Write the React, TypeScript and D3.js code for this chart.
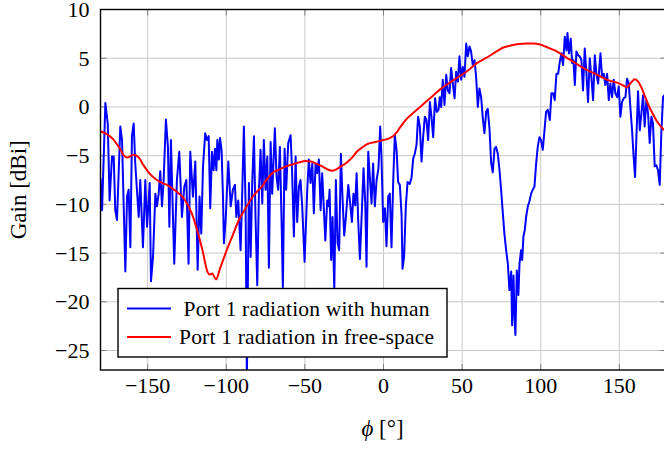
import React from 'react';
import * as d3 from 'd3';

const xTicks = [-150, -100, -50, 0, 50, 100, 150];
const yTicks = [-25, -20, -15, -10, -5, 0, 5, 10];
const legendLabels = ['Port 1 radiation with human', 'Port 1 radiation in free-space'];
const seriesColors = ['#0000ff', '#ff0000'];

// [phi (deg), gain (dBi)]
const humanPattern: [number, number][] = [
  [-180, -7.3], [-179, -10.6], [-176.9, 0.4], [-175.4, -1.7], [-174.2, -9.6], [-172.7, -5.1], [-171.6, -5.1],
  [-170.6, -10.6], [-169.5, -11.6], [-167.4, -2.0], [-166.3, -3.4], [-164.2, -16.9], [-163.1, -9.2], [-162.1, -8.5],
  [-161, -14.4], [-160, -3.0], [-158.9, -1.7], [-157.9, -5.8], [-155.7, -11.3], [-154.7, -7.5], [-153, -14.4],
  [-151.5, -7.5], [-150.4, -12.3], [-148.7, -7.8], [-147.9, -17.9], [-146.6, -15.4], [-145.1, -8.9], [-144.1, -10.2],
  [-143, -8.9], [-142, -6.6], [-140.9, -10.2], [-139.9, -7.7], [-138.4, -1.3], [-137.1, -4.1], [-136.2, -12.3],
  [-135.2, -3.4], [-133.9, -11.3], [-133.1, -16.1], [-131.4, -7.5], [-129.9, -4.6], [-128.2, -11.3], [-126.7, -8.2],
  [-125.4, -7.5], [-124, -16.1], [-122.9, -4.6], [-121.2, -9.2], [-119.7, -5.6], [-118.2, -16.7], [-117, -9.2],
  [-115.9, -13.0], [-114.8, -6.1], [-113.4, -2.7], [-112.3, -3.4], [-111.2, -3.0], [-110.2, -10.4], [-109.1, -4.6],
  [-108.1, -6.5], [-107.2, -4.3], [-106.3, -6.5], [-105.7, -3.4], [-104.7, -5.4], [-104, -3.2], [-103, -4.4],
  [-102.1, -9.2], [-101.5, -14.0], [-100.4, -11.6], [-98.7, -5.6], [-97.2, -10.2], [-95.8, -8.5], [-94.5, -8.0],
  [-93.6, -11.3], [-92.4, -9.6], [-90.9, -14.7], [-89.8, -8.5], [-88.8, -2.0], [-87.7, -10.2], [-86.9, -28],
  [-85.6, -7.8], [-84.5, -15.4], [-83.5, -7.8], [-82.4, -3.0], [-81.4, -11.3], [-80.3, -18.3], [-79.2, -8.5],
  [-78.2, -4.4], [-77.1, -9.9], [-76.1, -3.4], [-75, -8.5], [-73.9, -5.1], [-72.9, -16.5], [-71.8, -3.6],
  [-70.8, -8.9], [-69.1, -2.2], [-68, -7.2], [-67, -8.5], [-65.9, -4.1], [-64.8, -11.9], [-64, -18.5],
  [-62.9, -4.3], [-61.9, -8.5], [-60.6, -3.7], [-59.1, -2.9], [-58.1, -6.8], [-57, -13.3], [-55.9, -5.1],
  [-54.9, -11.8], [-53.8, -8.2], [-52.8, -7.5], [-51.7, -10.2], [-50.2, -15.9], [-48.5, -8.5], [-47.5, -5.4],
  [-46.4, -7.8], [-45.3, -5.8], [-44.3, -10.9], [-43.2, -5.8], [-42.2, -6.8], [-41.1, -5.4], [-40, -10.6],
  [-39, -6.8], [-37, -13.7], [-35.8, -9.6], [-34.9, -10.2], [-34.3, -8.5], [-33.3, -15.7], [-32.4, -11.3],
  [-31.3, -18.8], [-30.3, -7.5], [-29.2, -14.0], [-28.2, -14.7], [-27.1, -4.8], [-26.1, -9.2], [-25, -13.2],
  [-23.9, -11.3], [-22.4, -8.0], [-21.2, -9.9], [-20.1, -11.8], [-19.1, -8.9], [-18, -10.1], [-17.1, -6.8],
  [-16.1, -11.6], [-15, -15.6], [-14, -11.6], [-12.7, -6.3], [-11.6, -9.9], [-10.8, -16.4], [-9.7, -4.6],
  [-8.7, -7.2], [-7.6, -9.9], [-6.6, -5.8], [-5.5, -10.2], [-4.4, -7.5], [-3.2, -6.3], [-2.1, -2.0],
  [-1.3, -5.1], [-0.2, -11.8], [0.9, -10.4], [1.9, -14.3], [3, -9.2], [4, -8.9], [5.1, -14.4], [6.2, -7.5],
  [7.2, -2.9], [8.3, -4.4], [9.3, -7.7], [10.4, -8.0], [11.5, -11.1], [12.1, -16.6], [13.1, -15.4], [14.2, -10.2],
  [15.3, -7.7], [16.7, -7.9], [17.8, -7.3], [18.9, -5.3], [19.9, -4.8], [21, -3.9], [22, -1.0], [23.1, -2.0],
  [24.2, -5.6], [25.2, -3.1], [26.3, -1.0], [27.3, -1.3], [28.4, -3.4], [29.5, 0.5], [30.5, -1.0], [31.6, -3.1],
  [32.8, 0.9], [33.9, -0.5], [35, -0.3], [35.8, 1.0], [36.7, 0.0], [37.7, 2.8], [38.8, 0.2], [39.9, 3.3],
  [40.9, 1.7], [42, 1.4], [43, 4.0], [44.1, 2.4], [45.2, 0.9], [46.2, 3.6], [47.3, 2.6], [48.3, 5.2], [49.4, 2.8],
  [50.4, 4.1], [51.5, 3.1], [52.6, 6.5], [53.6, 5.2], [54.7, 6.2], [55.7, 5.7], [56.8, 4.3], [57.9, 4.8],
  [58.9, 3.1], [60, 0.0], [61, 1.9], [62.1, 1.0], [63.2, -1.2], [64.2, -2.7], [65.3, -0.5], [66.3, -0.2],
  [67.4, -2.2], [68.5, -5.8], [69.5, -6.7], [70.6, -4.3], [71.6, -4.1], [72.7, -4.8], [73.8, -6.5], [74.8, -8.5],
  [75.9, -10.9], [76.9, -13.0], [78, -14.7], [79.1, -16.1], [80.1, -18.8], [81.2, -16.9], [81.8, -22.4],
  [82.7, -17.3], [83.3, -21.5], [83.9, -23.4], [84.8, -16.8], [85.8, -19.3], [86.5, -16.1], [87.5, -14.7],
  [88.2, -15.7], [89, -13.3], [89.9, -12.6], [90.7, -11.3], [91.8, -10.2], [92.8, -9.7], [93.9, -8.9],
  [94.9, -8.5], [96, -8.2], [97.1, -5.8], [98.1, -4.1], [99.2, -3.1], [100.2, -3.4], [101.3, -4.4], [102.4, -2.4],
  [103.4, -0.5], [104.5, -0.3], [105.8, -1.35], [106.8, 1.4], [107.9, 1.4], [108.9, 0.7], [110, 3.4], [111.1, 3.4],
  [112.1, 4.6], [113.2, 5.5], [114.2, 4.3], [115.3, 7.2], [116.4, 5.8], [117, 7.6], [118, 5.5], [119.1, 7.0],
  [120, 4.5], [120.8, 4.8], [121.7, 2.25], [122.7, 5.7], [123.8, 5.3], [124.8, 5.2], [125.9, 4.8], [126.9, 1.7],
  [128, 6.0], [129.1, 3.4], [130.1, 0.5], [131.2, 5.0], [132.2, 3.1], [133.3, 0.7], [134.4, 5.3], [135.4, 3.4],
  [136.5, 2.4], [138, 5.5], [139, 3.1], [140.1, 3.4], [141.1, 2.25], [142.2, 3.4], [143.3, 0.7], [144.3, 2.4],
  [145.4, 1.0], [146.4, 2.8], [147.5, 1.4], [148.6, 1.0], [149.6, 2.1], [150.7, -1.0], [151.7, 0.5], [152.8, 0.9],
  [153.9, 1.0], [154.9, 2.9], [156, 2.4], [157, 0.0], [158.1, -2.4], [159.1, -5.1], [160, -7.2], [160.8, -3.4],
  [161.9, 1.6], [163, -2.4], [164, -0.7], [165.1, 1.2], [166.1, -2.0], [167.2, 0.7], [168.3, -0.7], [169.3, -3.7],
  [170.4, -1.0], [171.4, -1.7], [172.5, -6.1], [173.6, -6.0], [174.6, -6.5], [175.7, -8.0], [176.7, -2.7],
  [177.8, 1.0], [180, 1.5],
];

const freeSpacePattern: [number, number][] = [
  [-180, -2.5], [-176, -2.8], [-172, -3.3], [-168, -4.2], [-165, -5.0], [-163, -5.2], [-159, -4.9], [-155.6, -5.2],
  [-152.6, -6.0], [-149, -6.8], [-145, -7.4], [-141, -7.8], [-137.7, -8.0], [-134, -8.4], [-130, -8.9],
  [-127, -9.4], [-125, -9.9], [-122, -10.9], [-118.6, -12.6], [-115, -14.8], [-112, -16.9], [-110.5, -17.2],
  [-109, -17.1], [-106.5, -17.7], [-104, -16.6], [-100.4, -15.0], [-96, -13.2], [-92, -11.6], [-88, -10.5],
  [-84, -9.4], [-80, -8.6], [-77, -8.1], [-74, -7.4], [-70.8, -6.8], [-66, -6.4], [-62, -6.1], [-58, -5.9],
  [-53.8, -5.7], [-49.6, -5.55], [-46, -5.6], [-43, -5.8], [-39, -6.1], [-35.8, -6.4], [-32.5, -6.55],
  [-29, -6.3], [-26, -6.0], [-23.3, -5.7], [-20, -5.2], [-17, -4.6], [-13, -4.1], [-10, -3.8], [-5, -3.6],
  [0, -3.4], [4, -3.2], [7.4, -2.8], [11, -2.0], [14.9, -1.2], [19, -0.6], [23.3, 0.0], [27.5, 0.6], [31.8, 1.2],
  [36, 1.8], [40.3, 2.3], [45, 2.8], [49.8, 3.3], [55, 3.9], [59.4, 4.5], [65, 5.0], [70, 5.5], [73, 5.8],
  [76.3, 6.1], [81, 6.3], [86, 6.45], [91.2, 6.5], [95, 6.5], [99.6, 6.4], [103, 6.2], [106, 6.0], [109, 5.8],
  [112.3, 5.5], [118, 4.9], [125, 4.2], [132, 3.6], [137, 3.2], [142, 2.8], [146, 2.6], [149.4, 2.45],
  [152.5, 2.2], [154.7, 2.0], [157.5, 2.5], [159.8, 2.85], [162, 2.6], [164, 2.0], [166.5, 1.0], [168.5, 0.2],
  [170.6, -0.5], [174, -1.5], [178, -2.3], [180, -2.6],
];

export default function App() {
  const W = 664;
  const H = 450;
  const x = d3.scaleLinear().domain([-180, 180]).range([100.5, 666.5]);
  const y = d3.scaleLinear().domain([-27, 10]).range([370, 9.5]);
  const [x0, x1] = x.range();
  const [y0, y1] = y.range();

  const humanLine = d3.line<[number, number]>().x((d) => x(d[0])).y((d) => y(d[1])).curve(d3.curveLinear);
  const freeLine = d3.line<[number, number]>().x((d) => x(d[0])).y((d) => y(d[1])).curve(d3.curveMonotoneX);

  const font = "'Liberation Serif', 'Times New Roman', serif";
  const fmt = (v: number) => (v < 0 ? '\u2212' + Math.abs(v) : String(v));
  const tickLen = 6;

  // legend geometry
  const lgX = 118;
  const lgY = 288.5;
  const lgW = 329;
  const lgH = 68.5;
  const rowY = [lgY + 20, lgY + 48.5];
  const legendTextWidths = [246, 255];

  return (
    <svg width={W} height={H} style={{ position: 'absolute', left: 0, top: 0, background: '#fff' }}>
      <defs>
        <clipPath id="plotClip">
          <rect x={x0} y={y1} width={x1 - x0} height={y0 - y1} />
        </clipPath>
      </defs>
      <rect x={0} y={0} width={W} height={H} fill="#fff" />
      {/* grid */}
      <g stroke="#c8c8c8" strokeWidth={1}>
        {xTicks.map((t) => (
          <line key={'gx' + t} x1={x(t)} x2={x(t)} y1={y1} y2={y0} />
        ))}
        {yTicks.map((t) => (
          <line key={'gy' + t} x1={x0} x2={x1} y1={y(t)} y2={y(t)} />
        ))}
      </g>
      {/* tick marks */}
      <g stroke="#808080" strokeWidth={1}>
        {xTicks.map((t) => (
          <g key={'tx' + t}>
            <line x1={x(t)} x2={x(t)} y1={y0} y2={y0 - tickLen} />
            <line x1={x(t)} x2={x(t)} y1={y1} y2={y1 + tickLen} />
          </g>
        ))}
        {yTicks.map((t) => (
          <g key={'ty' + t}>
            <line x1={x0} x2={x0 + tickLen} y1={y(t)} y2={y(t)} />
            <line x1={x1} x2={x1 - tickLen} y1={y(t)} y2={y(t)} />
          </g>
        ))}
      </g>
      {/* series */}
      <g clipPath="url(#plotClip)" fill="none" strokeLinejoin="round">
        <path d={humanLine(humanPattern) || ''} stroke={seriesColors[0]} strokeWidth={2} />
        <path d={freeLine(freeSpacePattern) || ''} stroke={seriesColors[1]} strokeWidth={2} />
      </g>
      {/* frame */}
      <rect x={x0} y={y1} width={x1 - x0} height={y0 - y1} fill="none" stroke="#000" strokeWidth={1.4} />
      {/* tick labels */}
      <g fontFamily={font} fontSize={22} fill="#000">
        {xTicks.map((t) => (
          <text key={'lx' + t} x={x(t)} y={393} textAnchor="middle">
            {fmt(t)}
          </text>
        ))}
        {yTicks.map((t) => (
          <text key={'ly' + t} x={89.5} y={y(t) + 7.5} textAnchor="end">
            {fmt(t)}
          </text>
        ))}
      </g>
      {/* axis labels */}
      <text x={(x0 + x1) / 2 - 1} y={436} textAnchor="middle" fontFamily={font} fontSize={23}>
        <tspan fontStyle="italic">ϕ</tspan>
        <tspan> [°]</tspan>
      </text>
      <text
        transform={`translate(26, ${(y0 + y1) / 2}) rotate(-90)`}
        textAnchor="middle"
        fontFamily={font}
        fontSize={23}
      >
        Gain [dBi]
      </text>
      {/* legend */}
      <g>
        <rect x={lgX} y={lgY} width={lgW} height={lgH} fill="#fff" stroke="#000" strokeWidth={1.4} />
        {legendLabels.map((lab, i) => (
          <g key={lab}>
            <line x1={lgX + 9} x2={lgX + 53} y1={rowY[i]} y2={rowY[i]} stroke={seriesColors[i]} strokeWidth={2} />
            <text
              x={306.5}
              y={rowY[i] + 7}
              textAnchor="middle"
              fontFamily={font}
              fontSize={21.5}
              textLength={legendTextWidths[i]}
              lengthAdjust="spacing"
            >
              {lab}
            </text>
          </g>
        ))}
      </g>
    </svg>
  );
}
